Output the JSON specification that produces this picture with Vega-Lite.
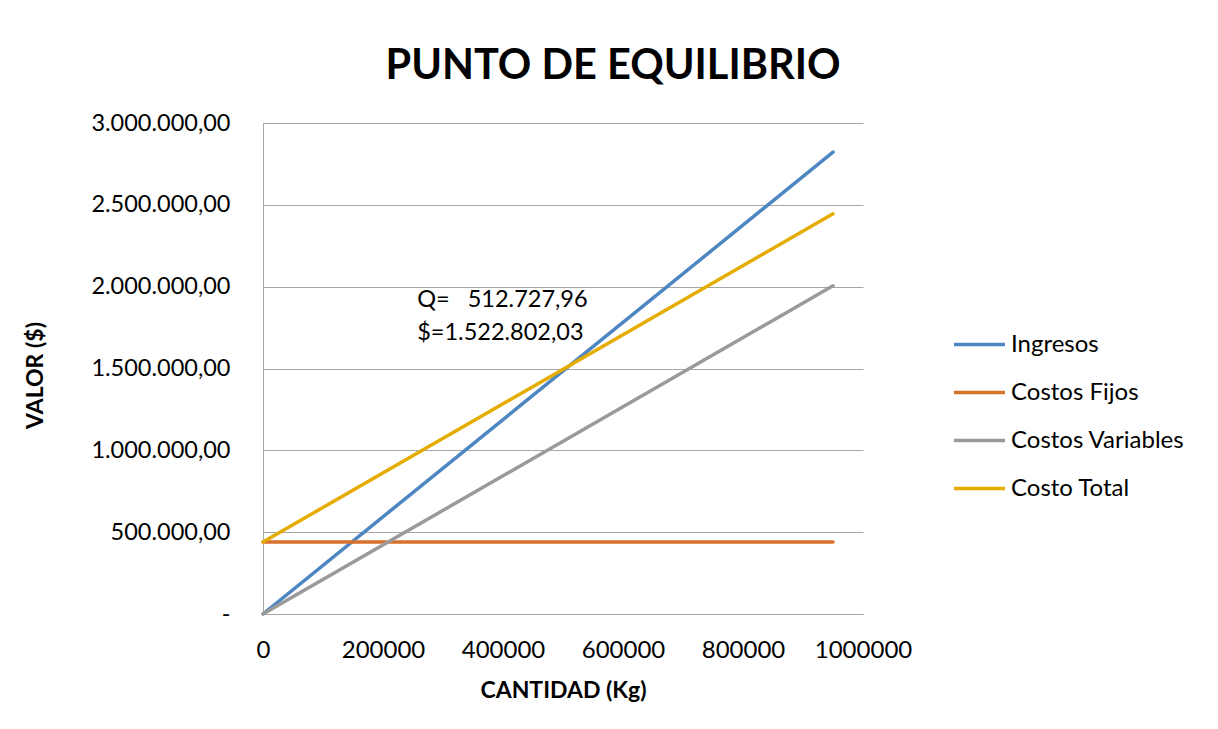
{
  "$schema": "https://vega.github.io/schema/vega-lite/v6.json",
  "width": 600,
  "height": 491,
  "autosize": {"type": "none"},
  "padding": {"left": 263, "top": 123, "right": 355, "bottom": 115},
  "background": "white",
  "config": {
    "font": "Lato",
    "view": {"stroke": null},
    "locale": {"number": {"decimal": ",", "thousands": ".", "grouping": [3], "currency": ["$", ""]}}
  },
  "title": {
    "text": "PUNTO DE EQUILIBRIO",
    "fontSize": 41.5,
    "fontWeight": "bold",
    "font": "Lato",
    "color": "#000000",
    "anchor": "middle",
    "dx": 50,
    "dy": 52,
    "baseline": "alphabetic",
    "offset": 43
  },
  "datasets": {
    "lines": [
      {"cantidad": 0, "valor": 0, "serie": "Ingresos"},
      {"cantidad": 950000, "valor": 2821500, "serie": "Ingresos"},
      {"cantidad": 0, "valor": 440000, "serie": "Costos Fijos"},
      {"cantidad": 950000, "valor": 440000, "serie": "Costos Fijos"},
      {"cantidad": 0, "valor": 0, "serie": "Costos Variables"},
      {"cantidad": 950000, "valor": 2005000, "serie": "Costos Variables"},
      {"cantidad": 0, "valor": 440000, "serie": "Costo Total"},
      {"cantidad": 950000, "valor": 2445000, "serie": "Costo Total"}
    ],
    "notes": [
      {"cantidad": 257000, "valor": 1919000, "label": "Q=\u00a0\u00a0\u00a0512.727,96"},
      {"cantidad": 257000, "valor": 1717000, "label": "$=1.522.802,03"}
    ]
  },
  "layer": [
    {
      "data": {"name": "lines"},
      "mark": {"type": "line", "strokeWidth": 3.5, "strokeCap": "round"},
      "encoding": {
        "x": {
          "field": "cantidad",
          "type": "quantitative",
          "scale": {"domain": [0, 1000000], "nice": false},
          "axis": {
            "values": [0, 200000, 400000, 600000, 800000, 1000000],
            "format": "d",
            "grid": false,
            "ticks": false,
            "domainColor": "#A6A6A6",
            "domainWidth": 1,
            "labelFontSize": 24,
            "labelColor": "#000000",
            "labelPadding": 24,
            "labelFlush": false,
            "title": "CANTIDAD (Kg)",
            "titleFontSize": 23,
            "titleFontWeight": "bold",
            "titleColor": "#000000",
            "titleX": 300,
            "titleY": 76,
            "titleBaseline": "middle",
            "titleAlign": "center"
          }
        },
        "y": {
          "field": "valor",
          "type": "quantitative",
          "scale": {"domain": [0, 3000000], "nice": false},
          "axis": {
            "values": [0, 500000, 1000000, 1500000, 2000000, 2500000, 3000000],
            "labelExpr": "datum.value == 0 ? '-\u00a0\u00a0\u00a0' : format(datum.value, ',.2f')",
            "grid": true,
            "gridColor": "#A6A6A6",
            "gridWidth": 1,
            "ticks": false,
            "domainColor": "#A6A6A6",
            "domainWidth": 1,
            "labelFontSize": 23.5,
            "labelColor": "#000000",
            "labelPadding": 33,
            "title": "VALOR ($)",
            "titleFontSize": 23,
            "titleFontWeight": "bold",
            "titleColor": "#000000",
            "titleX": -228,
            "titleY": 252,
            "titleAngle": -90,
            "titleBaseline": "middle",
            "titleAlign": "center"
          }
        },
        "color": {
          "field": "serie",
          "type": "nominal",
          "scale": {
            "domain": ["Ingresos", "Costos Fijos", "Costos Variables", "Costo Total"],
            "range": ["#4E86C2", "#D8712C", "#9A9A9A", "#E5AC00"]
          },
          "legend": {
            "orient": "none",
            "legendX": 689,
            "legendY": 194,
            "title": null,
            "symbolType": "stroke",
            "symbolSize": 2600,
            "symbolStrokeWidth": 3.5,
            "labelFontSize": 24,
            "labelColor": "#000000",
            "labelOffset": 4,
            "labelLimit": 400,
            "rowPadding": 8
          }
        }
      }
    },
    {
      "data": {"name": "notes"},
      "mark": {"type": "text", "align": "left", "baseline": "middle", "fontSize": 23.5, "color": "#000000"},
      "encoding": {
        "x": {"field": "cantidad", "type": "quantitative"},
        "y": {"field": "valor", "type": "quantitative"},
        "text": {"field": "label"}
      }
    }
  ]
}
